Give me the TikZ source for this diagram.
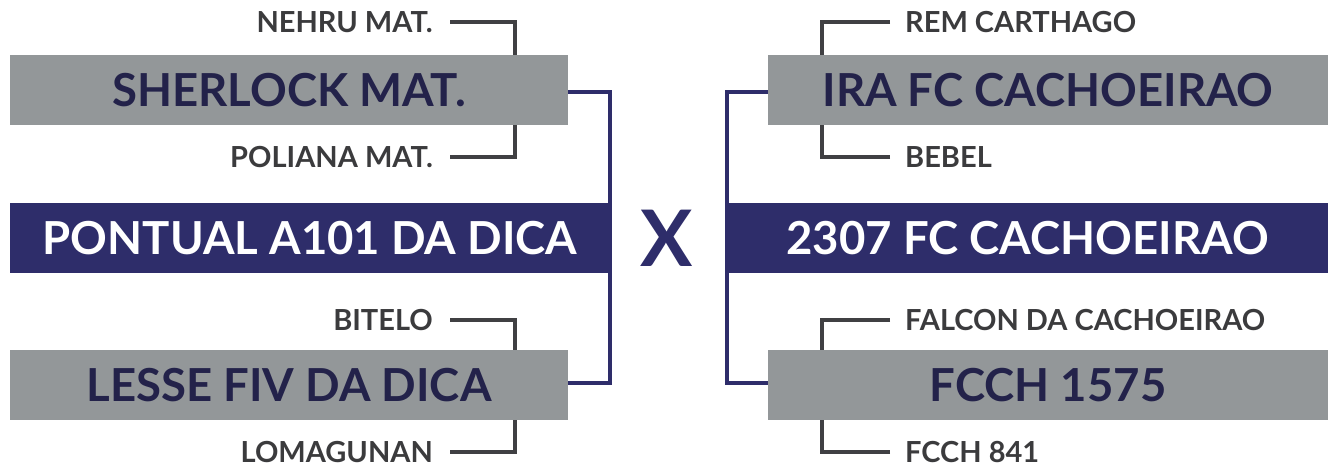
\documentclass[tikz,border=0pt]{standalone}
\usepackage{fontspec}
\setmainfont{Lato}
\definecolor{boxgray}{HTML}{939799}
\definecolor{navy}{HTML}{2E2D6A}
\definecolor{teamtext}{HTML}{23224A}
\definecolor{linegray}{HTML}{404043}
\definecolor{lbltext}{HTML}{3B3B3D}
\begin{document}
\begin{tikzpicture}[x=1pt,y=-1pt,
  team/.style={fill=boxgray,text=teamtext,font=\bfseries\fontsize{45.5}{48}\selectfont,
    minimum width=558,minimum height=70,inner sep=0},
  final/.style={team,fill=navy,text=white},
  lbl/.style={text=lbltext,font=\bfseries\fontsize{29}{30}\selectfont,inner sep=0},
  bracket/.style={draw=linegray,line width=4},
  link/.style={draw=navy,line width=3.5}]
  \useasboundingbox (0,0) rectangle (1328,466);
  \node[team] (sherlock) at (289,90) {SHERLOCK MAT.};
  \node[final,minimum width=600] (pontual) at (310,238) {PONTUAL A101 DA DICA};
  \node[team] (lesse) at (289,385) {LESSE FIV DA DICA};
  \node[team,minimum width=560] (ira) at (1048,90) {IRA FC CACHOEIRAO};
  \node[final,minimum width=601] (cach) at (1027.5,238) {2307 FC CACHOEIRAO};
  \node[team,minimum width=560] (fcch) at (1048,385) {FCCH 1575};
  \node[text=navy,font=\bfseries\fontsize{78}{80}\selectfont,inner sep=0] (vs) at (667,238) {X};
  \node[lbl,anchor=east] (nehru) at (433,22) {NEHRU MAT.};
  \node[lbl,anchor=east] (poliana) at (433,157) {POLIANA MAT.};
  \node[lbl,anchor=east] (bitelo) at (433,320) {BITELO};
  \node[lbl,anchor=east] (loma) at (433,452) {LOMAGUNAN};
  \node[lbl,anchor=west] (rem) at (905,22) {REM CARTHAGO};
  \node[lbl,anchor=west] (bebel) at (905,157) {BEBEL};
  \node[lbl,anchor=west] (falcon) at (905,320) {FALCON DA CACHOEIRAO};
  \node[lbl,anchor=west] (fcch841) at (905,452) {FCCH 841};
  \coordinate (lt) at (515,0);
  \coordinate (rt) at (822,0);
  \draw[bracket] ([xshift=17]nehru.east) -| (sherlock.north -| lt);
  \draw[bracket] ([xshift=17]poliana.east) -| (sherlock.south -| lt);
  \draw[bracket] ([xshift=17]bitelo.east) -| (lesse.north -| lt);
  \draw[bracket] ([xshift=17]loma.east) -| (lesse.south -| lt);
  \draw[bracket] ([xshift=-15]rem.west) -| (ira.north -| rt);
  \draw[bracket] ([xshift=-15]bebel.west) -| (ira.south -| rt);
  \draw[bracket] ([xshift=-15]falcon.west) -| (fcch.north -| rt);
  \draw[bracket] ([xshift=-15]fcch841.west) -| (fcch.south -| rt);
  \draw[link] ([yshift=-2]sherlock.east) -| (pontual.east) |- ([yshift=2]lesse.east);
  \draw[link] ([yshift=-2]ira.west) -| (cach.west) |- ([yshift=2]fcch.west);
\end{tikzpicture}
\end{document}
